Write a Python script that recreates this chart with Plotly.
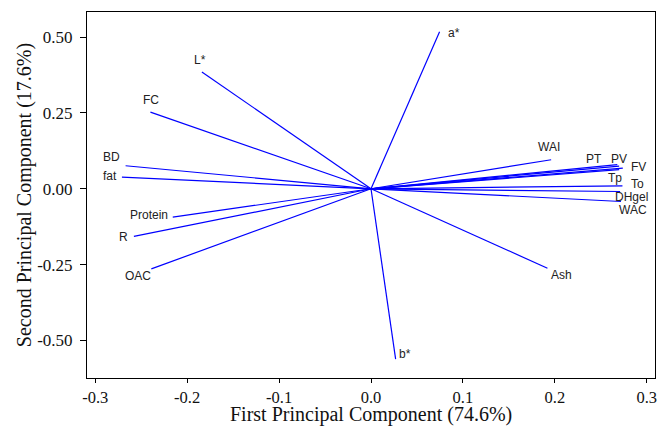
import plotly.graph_objects as go

# Loadings (PC1, PC2)
variables = ["a*", "L*", "FC", "BD", "fat", "Protein", "R", "OAC", "b*", "Ash",
             "WAI", "PT", "PV", "FV", "Tp", "To", "DHgel", "WAC"]
pc1 = [0.0746, -0.184, -0.240, -0.267, -0.271, -0.2157, -0.258, -0.239, 0.0268, 0.192,
       0.196, 0.268, 0.270, 0.274, 0.270, 0.2736, 0.271, 0.272]
pc2 = [0.518, 0.385, 0.253, 0.076, 0.0386, -0.0934, -0.157, -0.264, -0.562, -0.262,
       0.0957, 0.080, 0.075, 0.068, 0.063, 0.0099, -0.009, -0.042]

x_ticks = [-0.3, -0.2, -0.1, 0.0, 0.1, 0.2, 0.3]
x_tick_labels = ["-0.3", "-0.2", "-0.1", "0.0", "0.1", "0.2", "0.3"]
y_ticks = [-0.5, -0.25, 0.0, 0.25, 0.5]
y_tick_labels = ["-0.50", "-0.25", "0.00", "0.25", "0.50"]

# label placement (pixel offsets, anchor) per variable
label_style = {
    "a*": (14, -1, "center"), "L*": (-2, 12, "center"), "FC": (1, 12, "center"),
    "BD": (-14, 9, "center"), "fat": (-3, 1, "right"), "Protein": (-3, 2, "right"),
    "R": (-4, -1, "right"), "OAC": (-13, -7, "center"), "b*": (9, 5, "center"),
    "Ash": (14, -7, "center"), "WAI": (-2, 13, "center"), "PT": (-23, 6, "center"),
    "PV": (0, 7, "center"), "FV": (16, 1, "center"), "Tp": (-4, -8, "center"),
    "To": (15, 2, "center"), "DHgel": (11, -5, "center"), "WAC": (12, -8, "center"),
}

lx, ly = [], []
for a, b in zip(pc1, pc2):
    lx += [0, a, None]
    ly += [0, b, None]

fig = go.Figure()
fig.add_trace(go.Scatter(x=lx, y=ly, mode="lines",
                         line=dict(color="#0000FF", width=1.2),
                         hoverinfo="skip", showlegend=False))

for name, a, b in zip(variables, pc1, pc2):
    dx, dy, anc = label_style[name]
    fig.add_annotation(x=a, y=b, text=name, showarrow=False,
                       xshift=dx, yshift=dy, xanchor=anc, yanchor="middle",
                       font=dict(family="Liberation Sans, Arial", size=12, color="#222222"))

serif = "Liberation Serif, Times New Roman"
fig.update_xaxes(range=[-0.309, 0.309], tickvals=x_ticks, ticktext=x_tick_labels,
                 showgrid=False, zeroline=False, showline=True, linecolor="black",
                 linewidth=1, mirror=True, ticks="outside", ticklen=4, tickcolor="black",
                 tickfont=dict(family=serif, size=16.5, color="#111111"))
fig.update_yaxes(range=[-0.624, 0.583], tickvals=y_ticks, ticktext=y_tick_labels,
                 showgrid=False, zeroline=False, showline=True, linecolor="black",
                 linewidth=1, mirror=True, ticks="outside", ticklen=6, tickcolor="black",
                 tickfont=dict(family=serif, size=17, color="#111111"), ticklabelstandoff=4)

fig.add_annotation(text="First Principal Component (74.6%)", xref="paper", yref="paper",
                   x=0.5, y=-0.1, showarrow=False, xanchor="center", yanchor="middle",
                   font=dict(family=serif, size=20, color="#111111"))
fig.add_annotation(text="Second Principal Component (17.6%)", xref="paper", yref="paper",
                   x=-0.1105, y=0.5, showarrow=False, xanchor="center", yanchor="middle",
                   textangle=-90,
                   font=dict(family=serif, size=20, color="#111111"))

fig.update_layout(width=660, height=428, margin=dict(l=87, r=3, t=12, b=50),
                  plot_bgcolor="white", paper_bgcolor="white")
fig.write_html("out.html", config={"displayModeBar": False},
               post_script="document.body.style.margin='0';document.body.style.overflow='hidden';")
